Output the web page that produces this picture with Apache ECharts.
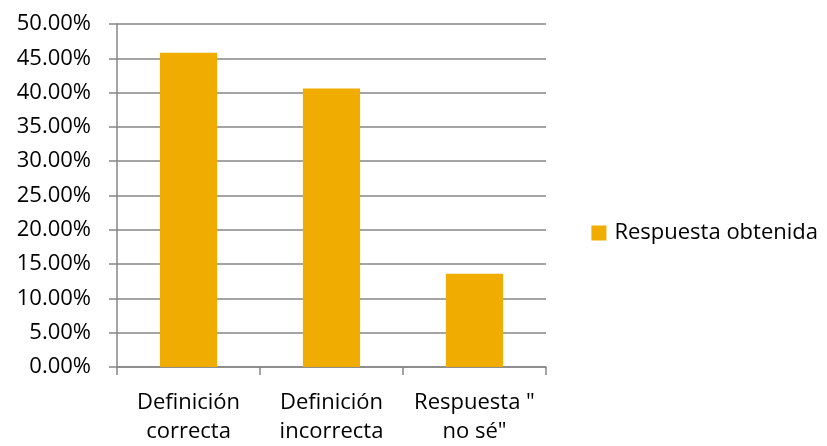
<!DOCTYPE html>
<html>
<head>
<meta charset="utf-8">
<script src="https://cdn.jsdelivr.net/npm/echarts@6/dist/echarts.min.js"></script>
<style>
  html, body { margin: 0; padding: 0; background: #fff; }
  #chart { width: 827px; height: 446px; }
</style>
</head>
<body>
<div id="chart"></div>
<script>
// Survey answers, share of respondents per answer type
const categories = ['Definición\ncorrecta', 'Definición\nincorrecta', 'Respuesta "\nno sé"'];
const seriesName = 'Respuesta obtenida';
const values = [45.8, 40.6, 13.6];
const yMin = 0, yMax = 50, yStep = 5;

const gray = '#868686';
const font = '"Open Sans", sans-serif';
const fs = 22;

const chart = echarts.init(document.getElementById('chart'), null, { renderer: 'canvas' });
chart.setOption({
  animation: false,
  backgroundColor: '#ffffff',
  grid: { left: 117, right: 281, top: 24, bottom: 78, containLabel: false },
  legend: {
    data: [seriesName],
    right: 4,
    top: 217,
    orient: 'vertical',
    icon: 'rect',
    itemWidth: 15,
    itemHeight: 15,
    textStyle: { fontFamily: font, fontSize: fs, color: '#000', padding: [0, 0, 0, 3] }
  },
  xAxis: {
    type: 'category',
    data: categories,
    boundaryGap: true,
    axisLine: { show: true, lineStyle: { color: gray, width: 1.5 } },
    axisTick: { show: true, length: 8, alignWithLabel: false, lineStyle: { color: gray, width: 1.5 } },
    axisLabel: { fontFamily: font, fontSize: fs, color: '#000', margin: 21, lineHeight: 29, interval: 0 }
  },
  yAxis: {
    type: 'value',
    min: yMin,
    max: yMax,
    interval: yStep,
    axisLine: { show: true, lineStyle: { color: gray, width: 1.5 } },
    axisTick: { show: true, length: 8, lineStyle: { color: gray, width: 1.5 } },
    splitLine: { show: true, lineStyle: { color: gray, width: 1.5 } },
    axisLabel: {
      fontFamily: font, fontSize: fs, color: '#000', margin: 26,
      formatter: v => v.toFixed(2) + '%'
    }
  },
  series: [{
    name: seriesName,
    type: 'bar',
    data: values,
    barWidth: '40%',
    itemStyle: { color: '#F0AD00' }
  }]
});
</script>
</body>
</html>
